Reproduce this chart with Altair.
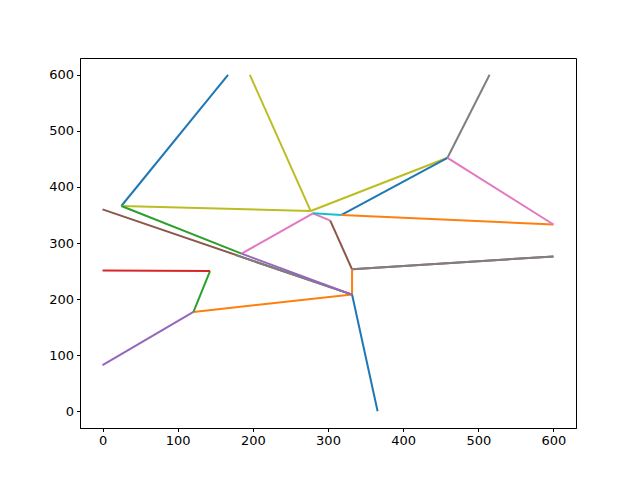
import altair as alt
import pandas as pd

# Voronoi-like ridge segments (data coords), drawn in order
seg_colors = [
    "#1f77b4", "#bcbd22", "#2ca02c", "#e377c2", "#bcbd22", "#bcbd22",
    "#17becf", "#1f77b4", "#ff7f0e", "#7f7f7f", "#e377c2", "#8c564b",
    "#8c564b", "#7f7f7f", "#ff7f0e", "#1f77b4", "#ff7f0e", "#9467bd",
    "#2ca02c", "#d62728", "#8c564b", "#7f7f7f", "#9467bd",
]
seg_x = [
    [25, 167], [25, 277], [25, 185], [185, 280, 303], [277, 196], [277, 459],
    [280, 318], [318, 459], [318, 600], [459, 515], [459, 600], [303, 332],
    [332, 600], [332, 600], [332, 332], [332, 366], [121, 332], [0, 121],
    [143, 121], [0, 143], [0, 332], [178, 332], [185, 332],
]
seg_y = [
    [366, 600], [366, 357], [366, 281], [281, 353, 340], [357, 600], [357, 452],
    [353, 350], [350, 452], [350, 333], [452, 600], [452, 333], [340, 253],
    [253, 276], [253, 276], [253, 208], [208, 0], [177, 208], [82, 177],
    [250, 177], [251, 250], [360, 208], [278, 208], [281, 208],
]

rows = []
for i, (c, xs, ys) in enumerate(zip(seg_colors, seg_x, seg_y)):
    for j, (x, y) in enumerate(zip(xs, ys)):
        rows.append({"seg": f"s{i:02d}", "ord": j, "x": x, "y": y, "c": c})
df = pd.DataFrame(rows)

ticks = [0, 100, 200, 300, 400, 500, 600]

axis_common = dict(
    grid=False, labelFontSize=13, labelFont="DejaVu Sans", labelColor="black",
    tickColor="black", domainColor="black", tickSize=3.5, labelPadding=3,
    title=None, values=ticks, domainWidth=1, tickWidth=1,
)

chart = alt.Chart(df).mark_line(strokeWidth=2, clip=True).encode(
    x=alt.X("x:Q", scale=alt.Scale(domain=[-30, 630], nice=False, zero=False),
            axis=alt.Axis(**axis_common)),
    y=alt.Y("y:Q", scale=alt.Scale(domain=[-30, 630], nice=False, zero=False),
            axis=alt.Axis(**axis_common)),
    color=alt.Color("c:N", scale=None),
    detail="seg:N",
    order="ord:Q",
).properties(
    width=496, height=370,
    autosize=alt.AutoSizeParams(type="none"),
    padding={"left": 72, "top": 50, "right": 10, "bottom": 50},
).configure_view(stroke="black", strokeWidth=1)

chart.save("out.html", embed_options={"renderer": "svg", "actions": False})
